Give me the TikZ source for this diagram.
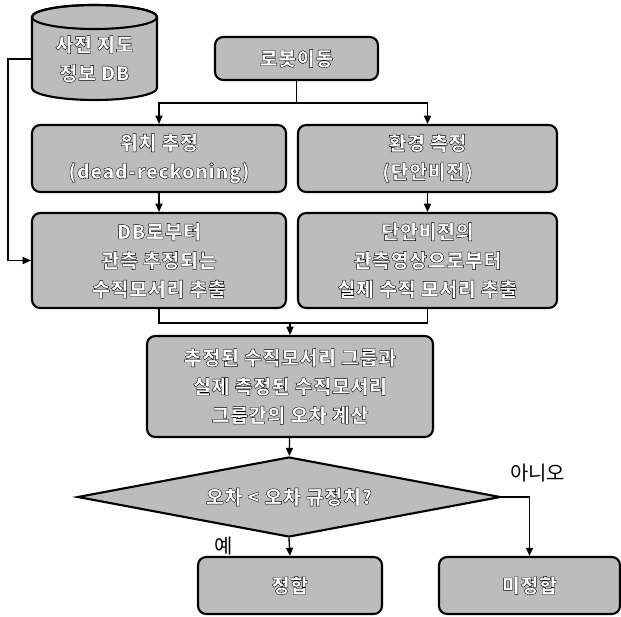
\documentclass[tikz,border=0pt]{standalone}
\usepackage{fontspec}
\setmainfont{Noto Sans CJK KR}
\newfontfamily\boxfont[FakeBold=2, LetterSpace=4]{Noto Sans CJK KR}
\usetikzlibrary{shapes.geometric,arrows.meta}

\definecolor{boxgray}{RGB}{188,188,188}
% white letters with a dark stroke round them
\newcommand{\ol}[1]{{\bfseries\special{pdf:bcolor [1] [0]}#1\special{pdf:ecolor}}}

\tikzset{
  block/.style={draw=black, line width=1.8pt, rounded corners=7pt, fill=boxgray,
    align=center, text=white, inner sep=0pt,
    font=\boxfont\fontsize{16.5}{24.5}\selectfont},
  decide/.style={block, rounded corners=0pt, diamond, aspect=5.3},
  plain/.style={font=\fontsize{17}{20}\selectfont}
}

\begin{document}
\begin{tikzpicture}[x=0.03cm, y=-0.03cm, line width=1.2pt, >={Triangle[length=7pt,width=6pt]}]
\useasboundingbox (0,0) rectangle (621,616);

% map database drum
\draw[line width=1.8pt, fill=boxgray] (32,17) -- (32,88)
  arc[start angle=180, end angle=0, x radius=62.5, y radius=12] -- (157,17)
  arc[start angle=0, end angle=-180, x radius=62.5, y radius=12] -- cycle;
\draw[line width=1.8pt] (94.5,17) ellipse[x radius=62.5, y radius=12];
\node[block, draw=none, fill=none, minimum width=3.75cm, minimum height=2cm] (db) at (94.5,59)
  {\ol{사전 지도}\\\ol{정보 DB}};

\node[block, minimum width=4.89cm, minimum height=1.29cm] (robot) at (296.5,58.5) {\ol{로봇이동}};

\node[block, minimum width=7.62cm, minimum height=2.01cm] (pos) at (159,158.5)
  {\ol{위치 추정}\\\ol{(dead-reckoning)}};
\node[block, minimum width=7.77cm, minimum height=2.01cm] (env) at (427.5,158.5)
  {\ol{환경 측정}\\\ol{(단안비전)}};

\node[block, minimum width=7.62cm, minimum height=2.85cm] (dbedge) at (159,260.5)
  {\ol{DB로부터}\\\ol{관측 추정되는}\\\ol{수직모서리 추출}};
\node[block, minimum width=7.77cm, minimum height=2.85cm] (camedge) at (427.5,260.5)
  {\ol{단안비전의}\\\ol{관측영상으로부터}\\\ol{실제 수직 모서리 추출}};

\node[block, minimum width=8.58cm, minimum height=3.03cm] (err) at (290,386.5)
  {\ol{추정된 수직모서리 그룹과}\\\ol{실제 측정된 수직모서리}\\\ol{그룹간의 오차 계산}};

\node[decide, minimum width=12.69cm, minimum height=2.4cm] (dec) at (289,497)
  {\ol{오차 < 오차 규정치?}};

\node[block, minimum width=5.52cm, minimum height=1.71cm] (match) at (290,585.5) {\ol{정합}};
\node[block, minimum width=5.43cm, minimum height=1.71cm] (nomatch) at (529.5,585.5) {\ol{미정합}};

\coordinate (lft) at (8,0);
\coordinate (split) at (296.5,103);
\coordinate (merge) at (290,323);

% map data feeds the DB box from the left
\draw[->] (db.west) -- (db.west -| lft) |- (dbedge.west);

\draw (robot.south) -- (split);
\draw[->] (split) -| (pos.north);
\draw[->] (split) -| (env.north);

\draw[->] (pos) -- (dbedge);
\draw[->] (env) -- (camedge);

\draw (dbedge.south) |- (merge) -| (camedge.south);
\draw[->] (merge) -- (err.north);
\draw[->] (err) -- (dec);

\draw[->] (dec.south) -- (match.north) node[plain, pos=0.45, left=44pt] {예};
\draw[->] (dec.east) -| (nomatch.north) node[plain, pos=0.5, anchor=south, xshift=0.24cm, yshift=0.3cm] {아니오};
\end{tikzpicture}
\end{document}
